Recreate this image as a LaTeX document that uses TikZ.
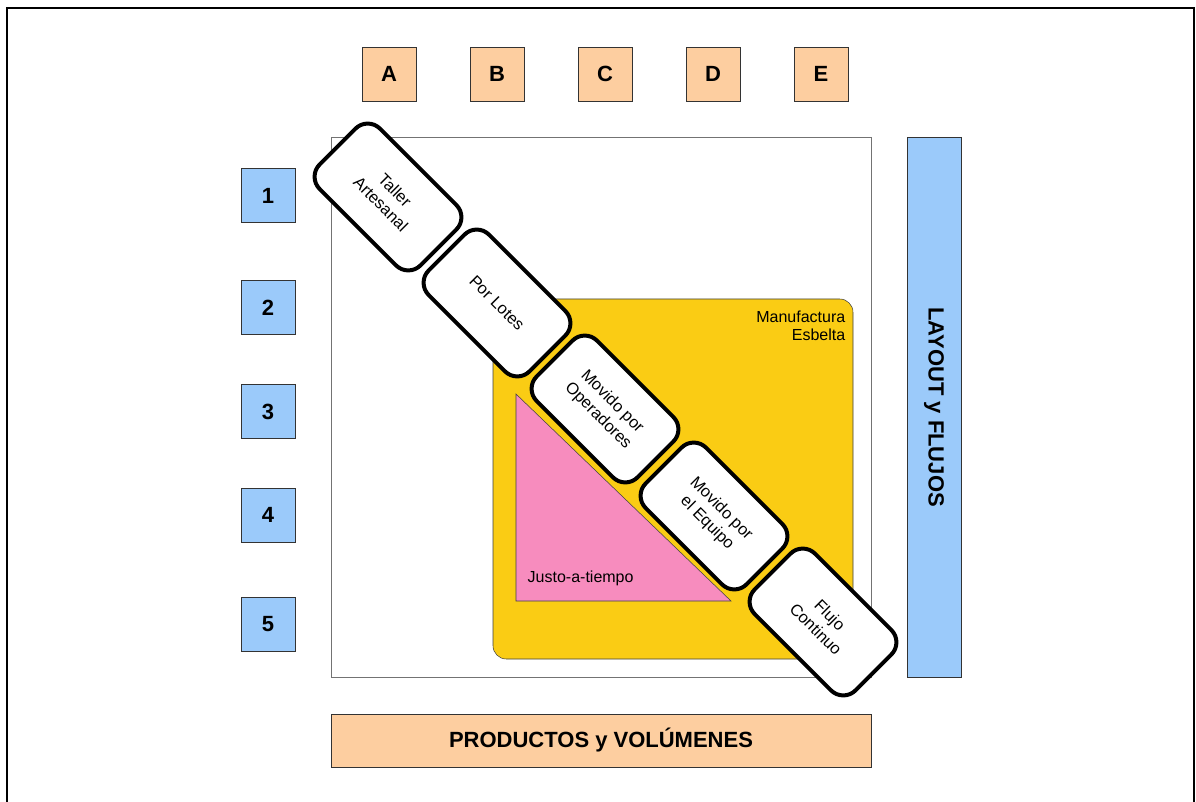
\documentclass[tikz,border=0pt]{standalone}
\usepackage{fontspec}
\setmainfont{Liberation Sans}
\usetikzlibrary{calc}

\definecolor{peach}{RGB}{253,206,160}
\definecolor{skyblue}{RGB}{155,202,250}
\definecolor{leanyellow}{RGB}{250,204,20}
\definecolor{jitpink}{RGB}{247,140,190}

\begin{document}
\begin{tikzpicture}[x=0.75pt,y=-0.75pt]

\tikzstyle{colbox} = [draw=black!80, fill=peach, minimum size=40.5pt, inner sep=0pt, font=\fontsize{16.5}{19}\selectfont\bfseries]
\tikzstyle{rowbox} = [draw=black!80, fill=skyblue, minimum size=40.5pt, inner sep=0pt, font=\fontsize{16.5}{19}\selectfont\bfseries]
\tikzstyle{stagebox} = [draw, line width=3pt, rounded corners=13pt, fill=white, minimum width=107pt, minimum height=64pt, rotate=-45, align=center, font=\fontsize{12.3}{15}\selectfont]
\tikzset{small label/.style={font=\fontsize{12}{13.5}\selectfont}}

\useasboundingbox (0,0) rectangle (1196,802);
\draw[line width=1.5pt] (7,802) -- (7,8) -- (1194,8) -- (1194,802);

% matrix area
\node[draw=black!55, fill=white, minimum size=405pt, inner sep=0pt] (grid) at (601,407) {};
\node[draw=black!75, fill=leanyellow, rounded corners=10pt, minimum size=270pt, inner sep=0pt] (lean) at (673,479) {};
\node[small label, align=right, anchor=east] (leanlabel) at (850,326) {Manufactura\\Esbelta};
\draw[draw=black!75, fill=jitpink] (516,394) -- (516,601) -- (731,601) -- cycle;
\node[small label, anchor=west] (jitlabel) at (523,578) {Justo-a-tiempo};

% diagonal
\node[stagebox] (taller) at (388,197) {Taller\\Artesanal};
\node[stagebox] (lotes) at (497,303) {Por Lotes};
\node[stagebox] (operadores) at (605,409) {Movido por\\Operadores};
\node[stagebox] (equipo) at (714,516) {Movido por\\el Equipo};
\node[stagebox] (flujo) at (823,622) {Flujo\\Continuo};

% axes
\node[draw=black!80, fill=skyblue, rotate=-90, minimum width=405pt, minimum height=40.5pt, inner sep=0pt, font=\fontsize{16.5}{19}\selectfont\bfseries] (layout) at (934,407) {LAYOUT y FLUJOS};
\node[draw=black!80, fill=peach, minimum width=405pt, minimum height=40pt, inner sep=0pt, font=\fontsize{16.5}{19}\selectfont\bfseries] (productos) at (601,740.5) {PRODUCTOS y VOLÚMENES};

\node[colbox] (colA) at (389,74) {A};
\node[colbox] (colB) at (497,74) {B};
\node[colbox] (colC) at (605,74) {C};
\node[colbox] (colD) at (713,74) {D};
\node[colbox] (colE) at (821,74) {E};

\node[rowbox] (row1) at (268,195.5) {1};
\node[rowbox] (row2) at (268,307.5) {2};
\node[rowbox] (row3) at (268,411.5) {3};
\node[rowbox] (row4) at (268,515) {4};
\node[rowbox] (row5) at (268,624) {5};

\end{tikzpicture}
\end{document}
